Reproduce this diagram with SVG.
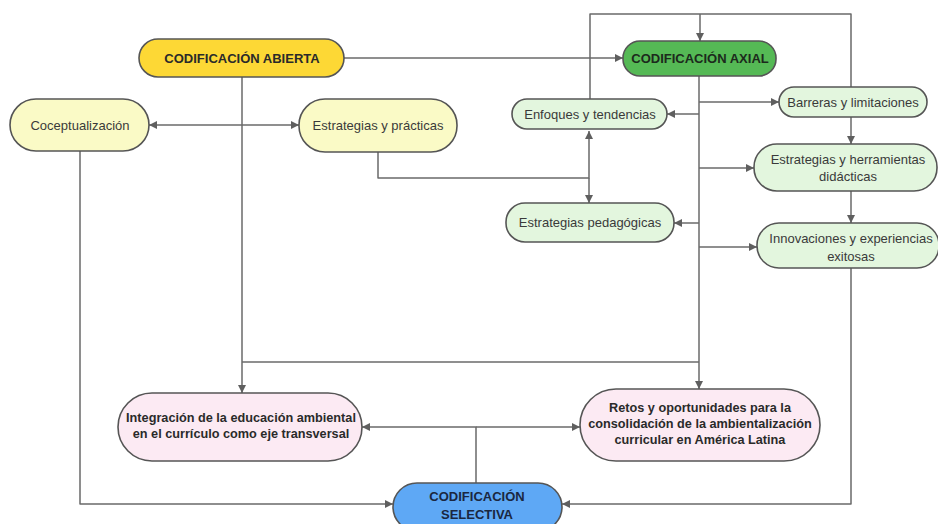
<svg xmlns="http://www.w3.org/2000/svg" width="938" height="524" viewBox="0 0 938 524">
<defs>
<marker id="arr" viewBox="0 0 10 10" refX="10" refY="5" markerWidth="9" markerHeight="8" markerUnits="userSpaceOnUse" orient="auto-start-reverse">
<path d="M0,0 L10,5 L0,10 z" fill="#5f5f5f"/>
</marker>
<style>
.node{stroke:#555;stroke-width:1.6}
.t{font-family:"Liberation Sans",Arial,sans-serif;font-size:13px;fill:#3a3a3a;text-anchor:middle;dominant-baseline:central}
.b{font-weight:bold;fill:#2a2a2a}
.s{font-size:12.7px}
.c{fill:none;stroke:#6a6a6a;stroke-width:1.5;stroke-linejoin:round}
.a{marker-end:url(#arr)}
</style>
</defs>
<rect width="938" height="524" fill="#fff"/>
<g id="connectors">
<path class="c a" d="M344 58 H623"/>
<path class="c a" d="M242 77 V393"/>
<path class="c a" d="M699 76 V389"/>
<path class="c" d="M242 362 H699"/>
<path class="c a" d="M242 125 H149"/>
<path class="c a" d="M242 125 H299"/>
<path class="c a" d="M80 151 V504 H393"/>
<path class="c a" d="M378 152 V178 H589 V131"/>
<path class="c a" d="M589 178 V203"/>
<path class="c" d="M590 99 V14 H851 V87"/>
<path class="c a" d="M700 14 V41"/>
<path class="c a" d="M699 102 H779"/>
<path class="c a" d="M699 114 H667"/>
<path class="c a" d="M699 168 H754"/>
<path class="c a" d="M699 223 H674"/>
<path class="c a" d="M699 247 H757"/>
<path class="c a" d="M851 117 V144"/>
<path class="c a" d="M851 191 V223"/>
<path class="c a" d="M851 268 V504 H562"/>
<path class="c a" d="M476 483 V427 H362"/>
<path class="c a" d="M476 427 H580"/>
</g>
<g id="abierta">
<rect class="node" x="139" y="39" width="205" height="38" rx="19" fill="#fdd835"/>
<text class="t b" x="242" y="58">CODIFICACIÓN ABIERTA</text>
</g>
<g id="coceptualizacion">
<rect class="node" x="10" y="99" width="139" height="52" rx="26" fill="#fafac6"/>
<text class="t" x="80" y="125">Coceptualización</text>
</g>
<g id="estrategias-practicas">
<rect class="node" x="299" y="99" width="158" height="53" rx="26" fill="#fafac6"/>
<text class="t" x="378" y="125">Estrategias y prácticas</text>
</g>
<g id="axial">
<rect class="node" x="623" y="41" width="153" height="35" rx="17" fill="#55b955"/>
<text class="t b" x="700" y="58" style="fill:#1c2a1c">CODIFICACIÓN AXIAL</text>
</g>
<g id="enfoques">
<rect class="node" x="512" y="99" width="155" height="30" rx="15" fill="#e3f6de"/>
<text class="t" x="590" y="114">Enfoques y tendencias</text>
</g>
<g id="barreras">
<rect class="node" x="779" y="87" width="148" height="30" rx="15" fill="#e3f6de"/>
<text class="t" x="853" y="102">Barreras y limitaciones</text>
</g>
<g id="estrategias-herramientas">
<rect class="node" x="754" y="144" width="183" height="47" rx="23" fill="#e3f6de"/>
<text class="t" x="848" y="159">Estrategias y herramientas</text>
<text class="t" x="848" y="176">didácticas</text>
</g>
<g id="estrategias-pedagogicas">
<rect class="node" x="506" y="203" width="168" height="39" rx="19" fill="#e3f6de"/>
<text class="t" x="590" y="222">Estrategias pedagógicas</text>
</g>
<g id="innovaciones">
<rect class="node" x="757" y="223" width="182" height="45" rx="22" fill="#e3f6de"/>
<text class="t" x="851" y="238">Innovaciones y experiencias</text>
<text class="t" x="851" y="256">exitosas</text>
</g>
<g id="integracion">
<rect class="node" x="118" y="393" width="244" height="68" rx="34" fill="#fceaf3"/>
<text class="t b s" x="241" y="418">Integración de la educación ambiental</text>
<text class="t b s" x="241" y="434">en el currículo como eje transversal</text>
</g>
<g id="retos">
<rect class="node" x="580" y="389" width="240" height="72" rx="36" fill="#fceaf3"/>
<text class="t b s" x="700" y="408">Retos y oportunidades para la</text>
<text class="t b s" x="700" y="424">consolidación de la ambientalización</text>
<text class="t b s" x="700" y="440">curricular en América Latina</text>
</g>
<g id="selectiva">
<rect class="node" x="393" y="483" width="169" height="48" rx="24" fill="#5ea8f5"/>
<text class="t b" x="477" y="496" style="fill:#1a2740">CODIFICACIÓN</text>
<text class="t b" x="477" y="514" style="fill:#1a2740">SELECTIVA</text>
</g>
</svg>
